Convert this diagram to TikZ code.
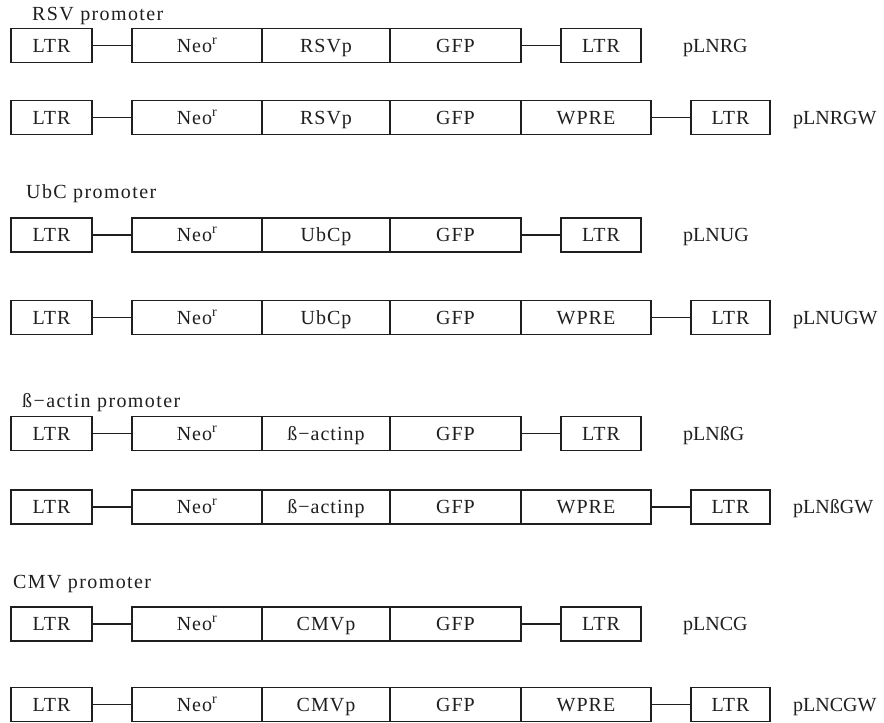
\documentclass[tikz,border=0pt]{standalone}
\usepackage{fontspec}
\setmainfont{Liberation Serif}
\newfontfamily\boxfont[LetterSpace=5]{Liberation Serif}
\newfontfamily\headfont[LetterSpace=7]{Liberation Serif}
\definecolor{ink}{gray}{0.12}
\tikzset{
  box/.style={draw=ink, line width=1.3pt, minimum height=34pt, inner sep=0pt,
    text height=13pt, text depth=0pt,
    font=\boxfont\fontsize{20}{24}\selectfont, text=ink},
  link/.style={draw=ink, line width=1.1pt},
  plabel/.style={anchor=west, inner sep=0pt, text height=13pt, text depth=0pt,
    font=\fontsize{20}{24}\selectfont, text=ink},
  heading/.style={anchor=base west, inner sep=0pt, font=\headfont\fontsize{20}{24}\selectfont, text=ink},
}
\newcommand\shortrow[4]{%
  \node[box, minimum width=81pt] (#1a) at (51.5,#2) {LTR};
  \node[box, minimum width=130pt] (#1n) at (197,#2) {Neo\textsuperscript{r}};
  \node[box, minimum width=128pt] (#1p) at (326,#2) {#3};
  \node[box, minimum width=131pt] (#1g) at (455.5,#2) {GFP};
  \node[box, minimum width=80pt] (#1b) at (601,#2) {LTR};
  \node[plabel] (#1l) at (683,#2) {#4};
  \draw[link] (#1a) -- (#1n);
  \draw[link] (#1g) -- (#1b);
}
\newcommand\longrow[4]{%
  \node[box, minimum width=81pt] (#1a) at (51.5,#2) {LTR};
  \node[box, minimum width=130pt] (#1n) at (197,#2) {Neo\textsuperscript{r}};
  \node[box, minimum width=128pt] (#1p) at (326,#2) {#3};
  \node[box, minimum width=131pt] (#1g) at (455.5,#2) {GFP};
  \node[box, minimum width=130pt] (#1w) at (586,#2) {WPRE};
  \node[box, minimum width=79pt] (#1b) at (730.5,#2) {LTR};
  \node[plabel] (#1l) at (793,#2) {#4};
  \draw[link] (#1a) -- (#1n);
  \draw[link] (#1w) -- (#1b);
}
\begin{document}
\begin{tikzpicture}[x=1pt,y=-1pt]
  \useasboundingbox[fill=white] (0,0) rectangle (884,723);
  \node[heading] (h1) at (32,20) {RSV promoter};
  \shortrow{r1}{45.5}{RSVp}{pLNRG}
  \longrow{r2}{117.5}{RSVp}{pLNRGW}
  \node[heading] (h2) at (26,198) {UbC promoter};
  \shortrow{r3}{235}{UbCp}{pLNUG}
  \longrow{r4}{317.5}{UbCp}{pLNUGW}
  \node[heading] (h3) at (22,407) {ß−actin promoter};
  \shortrow{r5}{433.5}{ß−actinp}{pLNßG}
  \longrow{r6}{507}{ß−actinp}{pLNßGW}
  \node[heading] (h4) at (13,588) {CMV promoter};
  \shortrow{r7}{624}{CMVp}{pLNCG}
  \longrow{r8}{704.5}{CMVp}{pLNCGW}
\end{tikzpicture}
\end{document}
